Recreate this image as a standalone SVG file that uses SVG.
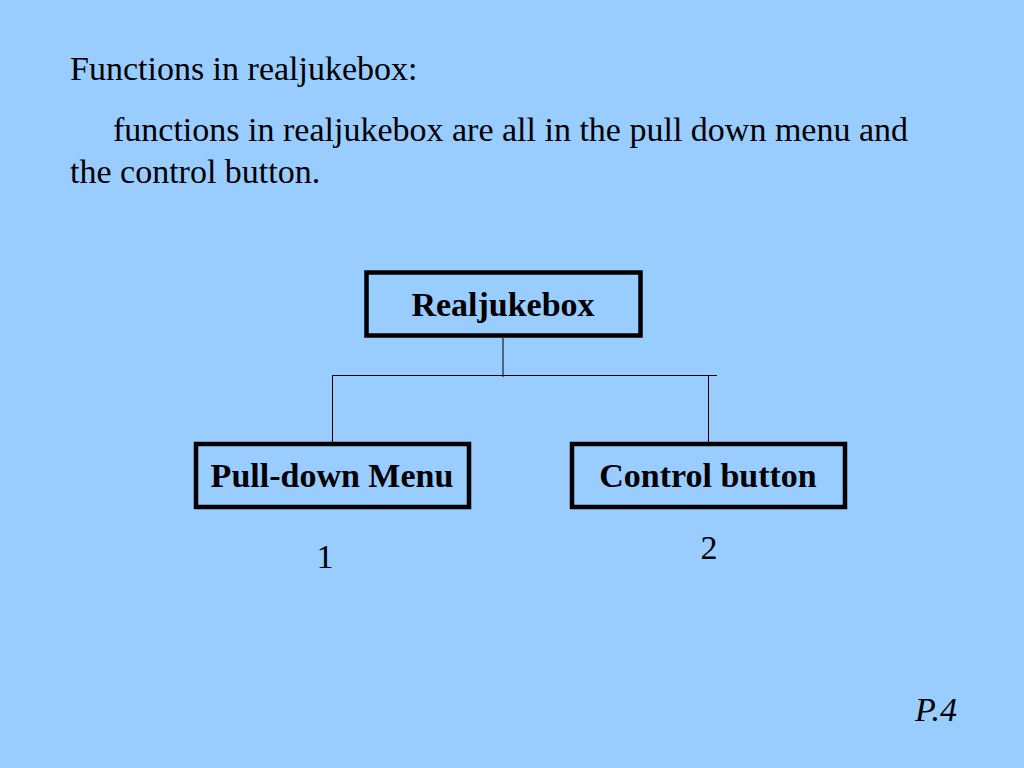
<svg xmlns="http://www.w3.org/2000/svg" width="1024" height="768" viewBox="0 0 1024 768">
<style>
.t{font-family:"Liberation Serif","Times New Roman",serif;fill:#000;font-size:34px}
.n{font-family:"Liberation Serif","Times New Roman",serif;fill:#000;font-size:34px;font-weight:bold;text-anchor:middle}
.box{fill:none;stroke:#000;stroke-width:4.5}
.c{stroke:#000;stroke-width:1;fill:none}
</style>
<rect width="1024" height="768" fill="#99CCFF"/>
<text class="t" x="70" y="80">Functions in realjukebox:</text>
<text class="t" x="113" y="141">functions in realjukebox are all in the pull down menu and</text>
<text class="t" x="70" y="183">the control button.</text>
<g id="connectors">
<line class="c" x1="503" y1="338" x2="503" y2="377"/>
<line class="c" x1="332" y1="375.5" x2="717" y2="375.5"/>
<line class="c" x1="332.5" y1="375" x2="332.5" y2="442"/>
<line class="c" x1="708.5" y1="375" x2="708.5" y2="442"/>
</g>
<g id="node-realjukebox">
<rect class="box" x="366.5" y="272.5" width="274" height="63"/>
<text class="n" x="503" y="316">Realjukebox</text>
</g>
<g id="node-pulldown">
<rect class="box" x="196" y="444" width="273" height="63"/>
<text class="n" x="332" y="487">Pull-down Menu</text>
</g>
<g id="node-control">
<rect class="box" x="572" y="444" width="273" height="63"/>
<text class="n" x="708" y="487">Control button</text>
</g>
<text class="t" x="325" y="568" text-anchor="middle">1</text>
<text class="t" x="709" y="559" text-anchor="middle">2</text>
<text class="t" x="915" y="721" font-size="32" font-style="italic">P.4</text>
</svg>
